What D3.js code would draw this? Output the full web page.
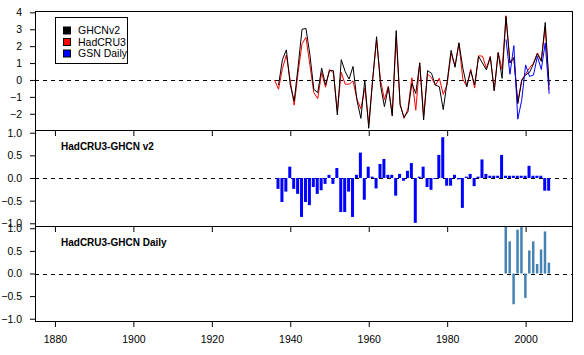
<!DOCTYPE html>
<html><head><meta charset="utf-8">
<script src="https://cdn.jsdelivr.net/npm/d3@7"></script>
<style>
body{margin:0;background:#fff}
svg{display:block}
text{font-family:"Liberation Sans",Arial,sans-serif;fill:#000}
</style>
</head><body>
<svg id="c" width="584" height="355"></svg>
<script>
// ---- data ----
const ghcnYears = [1937,1938,1939,1940,1941,1942,1943,1944,1945,1946,1947,1948,1949,1950,1951,1952,1953,1954,1955,1956,1957,1958,1959,1960,1961,1962,1963,1964,1965,1966,1967,1968,1969,1970,1971,1972,1973,1974,1975,1976,1977,1978,1979,1980,1981,1982,1983,1984,1985,1986,1987,1988,1989,1990,1991,1992,1993,1994,1995,1996,1997,1998,1999,2000,2001,2002,2003,2004,2005,2006];
const ghcnV2 = [-0.31,1.20,1.78,-0.30,-1.25,0.80,3.00,3.05,1.50,-0.55,-0.75,0.70,-0.30,0.55,0.55,-2.07,1.20,0.50,0.05,0.80,-1.20,-2.27,0.00,-2.86,0.00,2.56,-0.30,-1.58,-0.43,-2.13,2.92,-1.48,-2.21,-1.87,-0.20,-0.80,1.00,-2.37,0.55,0.40,-0.30,-0.40,-1.75,-0.10,1.75,0.75,2.20,0.70,-0.40,0.55,-0.30,1.40,1.00,0.60,1.35,-0.65,1.60,0.10,3.75,1.00,1.30,-1.40,-0.05,0.30,0.45,0.95,1.55,1.10,3.40,-0.30];

const hadYears = [1936,1937,1938,1939,1940,1941,1942,1943,1944,1945,1946,1947,1948,1949,1950,1951,1952,1953,1954,1955,1956,1957,1958,1959,1960,1961,1962,1963,1964,1965,1966,1967,1968,1969,1970,1971,1972,1973,1974,1975,1976,1977,1978,1979,1980,1981,1982,1983,1984,1985,1986,1987,1988,1989,1990,1991,1992,1993,1994,1995,1996,1997,1998,1999,2000,2001,2002,2003,2004,2005,2006];
const hadCRU3 = [0.00,-0.55,0.67,1.48,-0.05,-1.49,0.45,2.14,2.52,0.90,-0.75,-1.10,0.43,-0.43,0.62,0.42,-1.85,0.45,-0.25,-0.25,-0.06,-1.13,-1.71,-0.48,-2.61,0.03,2.33,0.01,-1.16,-0.36,-2.06,2.53,-1.39,-2.27,-1.71,0.13,-1.79,1.03,-2.12,0.35,0.14,-0.32,0.11,-0.85,-0.27,1.58,0.82,2.17,0.04,-0.37,0.64,-0.48,1.43,1.41,0.69,1.40,-0.60,1.65,0.61,3.80,1.05,1.35,-1.35,0.00,0.35,0.72,1.00,1.60,1.15,3.12,-0.58];

const gsnYears = [1995,1996,1997,1998,1999,2000,2001,2002,2003,2004,2005,2006];
const gsnDaily = [2.40,0.34,2.03,-2.32,-1.20,0.89,0.21,0.29,1.39,0.62,2.19,-0.82];

const diffV2Years = ghcnYears;
const diffV2 = [-0.24,-0.53,-0.30,0.25,-0.24,-0.35,-0.86,-0.53,-0.60,-0.20,-0.35,-0.27,-0.13,0.07,-0.13,0.22,-0.75,-0.75,-0.30,-0.86,0.07,0.56,-0.48,0.25,0.03,-0.23,0.31,0.42,0.07,0.07,-0.39,0.09,-0.06,0.16,0.33,-0.99,0.03,0.25,-0.20,-0.26,-0.02,0.51,0.90,-0.17,-0.17,0.07,-0.03,-0.66,0.03,0.09,-0.18,0.03,0.41,0.09,0.05,0.05,0.05,0.51,0.05,0.05,0.05,0.05,0.05,0.05,0.27,0.05,0.05,0.05,-0.28,-0.28];

const diffDailyYears = gsnYears;
const diffDaily = [1.40,0.71,-0.68,0.97,1.20,-0.54,0.51,0.71,0.21,0.53,0.93,0.24];

const xTicks = [1880,1900,1920,1940,1960,1980,2000];
const topTicks = [-2,-1,0,1,2,3,4];
const diffTicks = [-1.0,-0.5,0.0,0.5,1.0];
const legendLabels = ["GHCNv2","HadCRU3","GSN Daily"];
const legendColors = ["#000000","#ff0000","#0000ff"];
const panelTitles = ["HadCRU3-GHCN v2","HadCRU3-GHCN Daily"];

// ---- layout ----
const svg = d3.select("#c");
const L = 35, R = 573;
const x = d3.scaleLinear().domain([1874.92, 2012.08]).range([L, R]);
const yTop = d3.scaleLinear().domain([-2.96, 4.08]).range([130, 11]);
const yMid = d3.scaleLinear().domain([-1.06, 1.06]).range([226, 130]);
const yBot = d3.scaleLinear().domain([-1.05, 1.05]).range([321, 226]);

const defs = svg.append("defs");
function clip(id, y0, y1){
  defs.append("clipPath").attr("id", id).append("rect")
    .attr("x", L).attr("y", y0).attr("width", R - L).attr("height", y1 - y0);
}
clip("cTop", 11, 130); clip("cMid", 130, 226); clip("cBot", 226, 321);

function yAxis(scale, ticks, fmt){
  const g = svg.append("g").attr("transform", `translate(${L},0)`)
    .call(d3.axisLeft(scale).tickValues(ticks).tickSize(5).tickPadding(8).tickFormat(fmt));
  g.select(".domain").remove();
  g.selectAll("text").style("font-size","10.5px").style("font-family",'"Liberation Sans",Arial,sans-serif').attr("fill","#000");
  g.selectAll("line").attr("stroke","#000");
  return g;
}
function xAxis(yPos, labels){
  const g = svg.append("g").attr("transform", `translate(0,${yPos})`)
    .call(d3.axisBottom(x).tickValues(xTicks).tickSize(6).tickPadding(9).tickFormat(labels ? d3.format("d") : ""));
  g.select(".domain").remove();
  g.selectAll("text").style("font-size","10.5px").style("font-family",'"Liberation Sans",Arial,sans-serif').attr("fill","#000");
  g.selectAll("line").attr("stroke","#000");
}
function zeroLine(scale){
  svg.append("line").attr("x1", L).attr("x2", R)
    .attr("y1", Math.round(scale(0)) + 0.5).attr("y2", Math.round(scale(0)) + 0.5)
    .attr("stroke","#000").attr("stroke-width",1).attr("stroke-dasharray","4,4");
}

// ---- top panel ----
zeroLine(yTop);
const line = d3.line().x(d => x(d[0])).y(d => yTop(d[1]));
const gTop = svg.append("g").attr("clip-path","url(#cTop)");
gTop.append("path").datum(d3.zip(hadYears, hadCRU3)).attr("d", line)
  .attr("fill","none").attr("stroke","#ff0000").attr("stroke-width",1);
gTop.append("path").datum(d3.zip(ghcnYears, ghcnV2)).attr("d", line)
  .attr("fill","none").attr("stroke","#000000").attr("stroke-width",1);
gTop.append("path").datum(d3.zip(gsnYears, gsnDaily)).attr("d", line)
  .attr("fill","none").attr("stroke","#0000ff").attr("stroke-width",1);

// legend
const lg = svg.append("g");
lg.append("rect").attr("x",55.5).attr("y",17.5).attr("width",72).attr("height",46)
  .attr("fill","#fff").attr("stroke","#000");
legendLabels.forEach((t,i) => {
  const cy = 30.5 + i * 11.5;
  lg.append("rect").attr("x",63.5).attr("y",cy - 3.5).attr("width",7).attr("height",7)
    .attr("fill",legendColors[i]).attr("stroke","#000");
  lg.append("text").attr("x",78).attr("y",cy).attr("dy","0.35em")
    .style("font-size","10.5px").text(t);
});

// ---- middle panel ----
zeroLine(yMid);
const gMid = svg.append("g").attr("clip-path","url(#cMid)");
gMid.selectAll("rect").data(d3.zip(diffV2Years, diffV2)).join("rect")
  .attr("x", d => x(d[0]) - 2).attr("width", 3)
  .attr("y", d => Math.min(yMid(0), yMid(d[1])))
  .attr("height", d => Math.abs(yMid(d[1]) - yMid(0)))
  .attr("fill","#0000ff");
svg.append("text").attr("x",61).attr("y",150).style("font-size","10px").style("font-weight","bold").text(panelTitles[0]);

// ---- bottom panel ----
zeroLine(yBot);
const gBot = svg.append("g").attr("clip-path","url(#cBot)");
gBot.selectAll("rect").data(d3.zip(diffDailyYears, diffDaily)).join("rect")
  .attr("x", d => x(d[0]) - 1.5).attr("width", 2.5)
  .attr("y", d => Math.min(yBot(0), yBot(d[1])))
  .attr("height", d => Math.abs(yBot(d[1]) - yBot(0)))
  .attr("fill","#4682b4");
svg.append("text").attr("x",61).attr("y",246).style("font-size","10px").style("font-weight","bold").text(panelTitles[1]);

// ---- axes & frames ----
yAxis(yTop, topTicks, d3.format("d"));
yAxis(yMid, diffTicks, d3.format(".1f"));
yAxis(yBot, diffTicks, d3.format(".1f"));
xAxis(130, false);
xAxis(226, false);
xAxis(321, true);
[[11,130],[130,226],[226,321]].forEach(([a,b]) => {
  svg.append("rect").attr("x",L+0.5).attr("y",a+0.5).attr("width",R-L-1).attr("height",b-a)
    .attr("fill","none").attr("stroke","#000").attr("stroke-width",1);
});
</script>
</body></html>
